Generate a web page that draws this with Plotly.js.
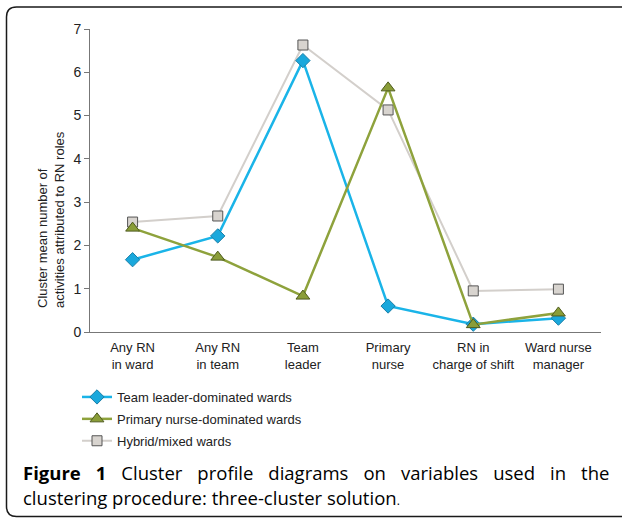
<!DOCTYPE html>
<html>
<head>
<meta charset="utf-8">
<script src="https://cdn.plot.ly/plotly-3.0.1.min.js"></script>
<style>html,body{margin:0;padding:0;background:#fff;}#chart{width:622px;height:518px;}</style>
</head>
<body>
<div id="chart"></div>
<script>
const categories = ["Any RN<br>in ward", "Any RN<br>in team", "Team<br>leader", "Primary<br>nurse", "RN in<br>charge of shift", "Ward nurse<br>manager"];
const teamLeader = [1.67, 2.22, 6.27, 0.60, 0.18, 0.32];
const primaryNurse = [2.40, 1.73, 0.83, 5.64, 0.17, 0.44];
const hybrid = [2.54, 2.68, 6.63, 5.13, 0.95, 0.99];
const yTicks = [0, 1, 2, 3, 4, 5, 6, 7];
const seriesNames = ["Team leader-dominated wards", "Primary nurse-dominated wards", "Hybrid/mixed wards"];

const W = 622, H = 518;
const M = {l: 90, r: 21, t: 29, b: 186};
const PW = W - M.l - M.r, PH = H - M.t - M.b;
const px = x => (x - M.l) / PW;
const py = y => (H - M.b - y) / PH;

const xIdx = categories.map((c, i) => i);

const traces = [
  {
    x: xIdx, y: hybrid, name: seriesNames[2], type: "scatter", mode: "lines+markers",
    line: {color: "#d3cfcb", width: 2},
    marker: {symbol: "square", size: 10, color: "#d8d4cf", line: {color: "#555", width: 1}},
    legendrank: 3, legendgroup: "c"
  },
  {
    x: xIdx, y: teamLeader, name: seriesNames[0], type: "scatter", mode: "lines+markers",
    line: {color: "#1ab4e8", width: 2.5},
    marker: {symbol: "diamond", size: 11, color: "#1aa8dc", line: {color: "#1a7fa8", width: 1}},
    legendrank: 1, legendgroup: "a"
  },
  {
    x: xIdx, y: primaryNurse, name: seriesNames[1], type: "scatter", mode: "lines+markers",
    line: {color: "#8ea23c", width: 2.5},
    marker: {symbol: "triangle-up", size: 12, color: "#8a9d38", line: {color: "#4f5c1e", width: 1}},
    legendrank: 2, legendgroup: "b"
  }
];

const r = 10;
const L = 6.5, R = 640, T = 7, B = 516.5;
const framePath = `M ${px(L)},${py(T + r)} Q ${px(L)},${py(T)} ${px(L + r)},${py(T)} L ${px(R)},${py(T)} ` +
  `M ${px(L)},${py(T + r)} L ${px(L)},${py(B - r)} Q ${px(L)},${py(B)} ${px(L + r)},${py(B)} L ${px(R)},${py(B)}`;

const capFont = {size: 18.5, color: "#000", family: "Open Sans, Noto Sans, sans-serif", weight: 400};

const layout = {
  width: W, height: H,
  margin: M,
  paper_bgcolor: "#fff", plot_bgcolor: "#fff",
  font: {family: "Liberation Sans, Arial, sans-serif", color: "#222"},
  showlegend: true,
  legend: {
    x: px(77), y: py(382), xanchor: "left", yanchor: "top",
    orientation: "v", traceorder: "grouped", tracegroupgap: 2,
    font: {size: 13, color: "#222", family: "Liberation Sans, Arial, sans-serif"},
    bgcolor: "rgba(0,0,0,0)"
  },
  xaxis: {
    range: [-0.5, 5.5],
    tickmode: "array", tickvals: xIdx, ticktext: categories,
    showgrid: false, zeroline: false,
    showline: true, linecolor: "#777", linewidth: 1,
    ticks: "", tickfont: {size: 13, color: "#222"},
    ticklabelstandoff: 3,
    fixedrange: true
  },
  yaxis: {
    range: [0, 7],
    tickmode: "array", tickvals: yTicks,
    showgrid: false, zeroline: false,
    showline: true, linecolor: "#777", linewidth: 1,
    ticks: "outside", ticklen: 5, tickcolor: "#777", tickwidth: 1,
    tickfont: {size: 14, color: "#222"},
    fixedrange: true
  },
  shapes: [
    {type: "path", xref: "paper", yref: "paper", path: framePath, line: {color: "#1a1a1a", width: 1.5}, layer: "above"}
  ],
  annotations: [
    {
      xref: "paper", yref: "paper", x: px(51), y: py(220), xanchor: "center", yanchor: "middle",
      text: "Cluster mean number of<br>activities attributed to RN roles",
      textangle: -90, align: "left", showarrow: false,
      font: {size: 13, color: "#222", family: "Liberation Sans, Arial, sans-serif"}
    },
    {
      xref: "paper", yref: "paper", x: px(21), y: py(458), xanchor: "left", yanchor: "top",
      text: "<span style=\"word-spacing:10.2px\"><b>Figure 1</b> Cluster profile diagrams on variables used in the</span>",
      align: "left", showarrow: false, font: capFont
    },
    {
      xref: "paper", yref: "paper", x: px(21), y: py(483), xanchor: "left", yanchor: "top",
      text: "clustering procedure: three-cluster solution<span style=\"font-size:12px\">.</span>",
      align: "left", showarrow: false, font: capFont
    }
  ]
};

Plotly.newPlot("chart", traces, layout, {displayModeBar: false, staticPlot: true});
</script>
</body>
</html>
